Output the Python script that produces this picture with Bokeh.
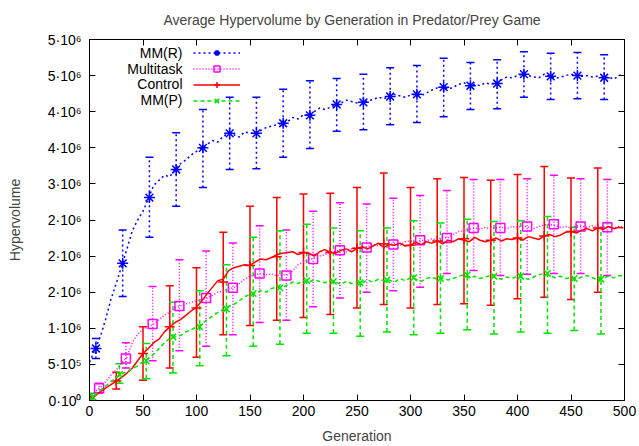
from bokeh.plotting import figure
from bokeh.models import (ColumnDataSource, Whisker, TeeHead, FixedTicker, LinearAxis,
                          Legend, LegendItem, Label)
from bokeh.embed import file_html
from bokeh.resources import INLINE

SCALE = 1e6  # values below are in units of 10^6

# ---- per-generation curves (read every 5 generations, plus the last one) ----
line_gens = list(range(0, 500, 5)) + [499]

mmr_line = [0.53, 0.70, 0.88, 1.12, 1.40, 1.62, 1.86, 2.10, 2.35, 2.50,
            2.62, 2.80, 2.98, 3.05, 3.12, 3.10, 3.20, 3.28, 3.33, 3.40,
            3.45, 3.50, 3.55, 3.60, 3.58, 3.66, 3.70, 3.68, 3.65, 3.72,
            3.70, 3.70, 3.74, 3.78, 3.80, 3.82, 3.84, 3.86, 3.92, 3.90,
            3.96, 3.95, 4.00, 4.05, 4.03, 4.06, 4.10, 4.12, 4.16, 4.14,
            4.12, 4.13, 4.15, 4.17, 4.20, 4.18, 4.21, 4.24, 4.22, 4.20,
            4.23, 4.24, 4.22, 4.26, 4.30, 4.33, 4.34, 4.31, 4.34, 4.38,
            4.40, 4.36, 4.38, 4.36, 4.40, 4.38, 4.39, 4.44, 4.48, 4.47,
            4.50, 4.52, 4.50, 4.48, 4.47, 4.52, 4.49, 4.46, 4.48, 4.50,
            4.52, 4.50, 4.49, 4.50, 4.48, 4.49, 4.47, 4.48, 4.45, 4.50,
            4.52]

multitask_line = [0.05, 0.12, 0.18, 0.26, 0.35, 0.42, 0.52, 0.60, 0.80, 0.92,
                  0.98, 1.02, 1.06, 1.12, 1.18, 1.22, 1.28, 1.31, 1.34, 1.36,
                  1.38, 1.40, 1.42, 1.46, 1.50, 1.52, 1.55, 1.56, 1.62, 1.68,
                  1.72, 1.74, 1.76, 1.74, 1.75, 1.73, 1.74, 1.74, 1.80, 1.88,
                  1.92, 1.95, 1.97, 2.00, 2.02, 2.05, 2.07, 2.08, 2.06, 2.10,
                  2.12, 2.11, 2.13, 2.16, 2.14, 2.17, 2.16, 2.18, 2.15, 2.20,
                  2.21, 2.19, 2.22, 2.21, 2.24, 2.23, 2.26, 2.25, 2.30, 2.34,
                  2.35, 2.37, 2.39, 2.37, 2.40, 2.38, 2.39, 2.40, 2.38, 2.41,
                  2.40, 2.42, 2.40, 2.38, 2.41, 2.43, 2.44, 2.42, 2.40, 2.41,
                  2.39, 2.42, 2.41, 2.40, 2.42, 2.40, 2.41, 2.40, 2.39, 2.41,
                  2.40]

control_line = [0.02, 0.06, 0.12, 0.17, 0.22, 0.27, 0.32, 0.38, 0.45, 0.55,
                0.65, 0.72, 0.80, 0.85, 0.95, 1.02, 1.08, 1.12, 1.18, 1.24,
                1.29, 1.38, 1.48, 1.57, 1.66, 1.68, 1.80, 1.84, 1.86, 1.88,
                1.87, 1.92, 1.96, 1.95, 1.98, 2.02, 2.04, 2.05, 2.06, 2.02,
                2.05, 2.04, 2.00, 2.06, 2.09, 2.05, 2.04, 2.08, 2.10, 2.06,
                2.11, 2.13, 2.10, 2.14, 2.18, 2.12, 2.16, 2.15, 2.18, 2.14,
                2.15, 2.19, 2.16, 2.20, 2.18, 2.21, 2.17, 2.22, 2.20, 2.24,
                2.22, 2.20, 2.26, 2.22, 2.20, 2.22, 2.25, 2.21, 2.24, 2.23,
                2.25, 2.22, 2.27, 2.25, 2.23, 2.28, 2.30, 2.27, 2.29, 2.33,
                2.34, 2.32, 2.36, 2.38, 2.35, 2.39, 2.37, 2.41, 2.38, 2.40,
                2.39]

mmp_line = [0.00, 0.07, 0.14, 0.20, 0.26, 0.32, 0.37, 0.40, 0.44, 0.48,
            0.54, 0.58, 0.64, 0.72, 0.80, 0.86, 0.88, 0.90, 0.95, 0.98,
            1.02, 1.06, 1.12, 1.17, 1.22, 1.26, 1.30, 1.33, 1.38, 1.44,
            1.47, 1.49, 1.52, 1.50, 1.55, 1.57, 1.56, 1.60, 1.64, 1.62,
            1.66, 1.64, 1.67, 1.65, 1.63, 1.66, 1.64, 1.61, 1.65, 1.62,
            1.64, 1.63, 1.67, 1.64, 1.68, 1.66, 1.67, 1.64, 1.69, 1.66,
            1.70, 1.68, 1.65, 1.69, 1.71, 1.68, 1.70, 1.67, 1.69, 1.72,
            1.74, 1.70, 1.72, 1.69, 1.71, 1.73, 1.70, 1.68, 1.71, 1.69,
            1.72, 1.70, 1.68, 1.71, 1.74, 1.76, 1.73, 1.70, 1.72, 1.69,
            1.70, 1.68, 1.71, 1.73, 1.70, 1.67, 1.70, 1.72, 1.70, 1.73,
            1.72]

# ---- error bar samples (every 25 generations, each series offset) ----
mmr_gens = [6, 31, 56, 81, 106, 131, 156, 181, 206, 231, 256, 281, 306, 331, 356, 381, 406, 431, 456, 481]
mmr_mean = [0.72, 1.90, 2.81, 3.20, 3.50, 3.70, 3.70, 3.84, 3.95, 4.10, 4.13, 4.21, 4.24, 4.34, 4.36, 4.39, 4.52, 4.49, 4.50, 4.47]
mmr_upper = [0.86, 2.36, 3.37, 3.71, 4.03, 4.20, 4.20, 4.31, 4.43, 4.46, 4.52, 4.61, 4.64, 4.74, 4.68, 4.72, 4.83, 4.81, 4.82, 4.79]
mmr_lower = [0.58, 1.44, 2.26, 2.69, 2.95, 3.20, 3.21, 3.37, 3.49, 3.73, 3.75, 3.82, 3.85, 3.93, 4.03, 4.04, 4.20, 4.17, 4.18, 4.17]

multitask_gens = [9, 34, 59, 84, 109, 134, 159, 184, 209, 234, 259, 284, 309, 334, 359, 384, 409, 434, 459, 484]
multitask_mean = [0.17, 0.58, 1.06, 1.31, 1.42, 1.56, 1.76, 1.73, 1.96, 2.08, 2.12, 2.16, 2.22, 2.25, 2.39, 2.39, 2.41, 2.44, 2.41, 2.40]
multitask_upper = [0.24, 0.80, 1.58, 1.95, 2.07, 2.18, 2.42, 2.36, 2.62, 2.74, 2.72, 2.80, 2.84, 2.91, 3.06, 3.06, 3.07, 3.12, 3.07, 3.06]
multitask_lower = [0.10, 0.45, 0.55, 0.69, 0.75, 0.91, 1.08, 1.11, 1.30, 1.42, 1.50, 1.52, 1.57, 1.76, 1.80, 1.73, 1.75, 1.76, 1.76, 1.73]

control_gens = [0, 25, 50, 75, 100, 125, 150, 175, 200, 225, 250, 275, 300, 325, 350, 375, 400, 425, 450, 475]
control_mean = [0.03, 0.27, 0.65, 1.02, 1.28, 1.64, 1.87, 1.99, 2.05, 2.05, 2.11, 2.17, 2.15, 2.21, 2.24, 2.22, 2.25, 2.28, 2.34, 2.39]
control_upper = [0.06, 0.39, 1.02, 1.59, 1.84, 2.33, 2.69, 2.81, 2.86, 2.87, 2.95, 3.15, 2.95, 3.07, 3.09, 3.05, 3.13, 3.24, 3.08, 3.22]
control_lower = [0.00, 0.16, 0.28, 0.45, 0.60, 0.91, 1.04, 1.11, 1.15, 1.19, 1.28, 1.33, 1.28, 1.33, 1.34, 1.32, 1.41, 1.43, 1.40, 1.50]

mmp_gens = [3, 28, 53, 78, 103, 128, 153, 178, 203, 228, 253, 278, 303, 328, 353, 378, 403, 428, 453, 478]
mmp_mean = [0.05, 0.36, 0.55, 0.88, 1.02, 1.27, 1.48, 1.56, 1.66, 1.65, 1.63, 1.67, 1.70, 1.69, 1.74, 1.72, 1.72, 1.76, 1.69, 1.68]
mmp_upper = [0.10, 0.51, 0.79, 1.36, 1.52, 1.88, 2.26, 2.35, 2.44, 2.39, 2.35, 2.39, 2.49, 2.46, 2.51, 2.48, 2.49, 2.55, 2.40, 2.39]
mmp_lower = [0.00, 0.24, 0.30, 0.38, 0.48, 0.62, 0.75, 0.78, 0.93, 0.93, 0.89, 0.95, 0.91, 0.93, 0.98, 0.92, 0.95, 0.93, 0.97, 0.92]

x_ticks = [0, 50, 100, 150, 200, 250, 300, 350, 400, 450, 500]
y_ticks = [0, 500000, 1000000, 1500000, 2000000, 2500000, 3000000, 3500000, 4000000, 4500000, 5000000]
y_tick_labels = ["0·10⁰", "5·10⁵", "1·10⁶", "2·10⁶", "2·10⁶", "2·10⁶",
                 "3·10⁶", "4·10⁶", "4·10⁶", "5·10⁶", "5·10⁶"]

series_names = ["MM(R)", "Multitask", "Control", "MM(P)"]
title_text = "Average Hypervolume by Generation in Predator/Prey Game"

FONT = "Liberation Sans"
FS = "14px"

p = figure(width=639, height=446, output_backend="svg", toolbar_location=None,
           x_range=(0, 500), y_range=(0, 5000000),
           min_border_left=89, min_border_right=15, min_border_top=39, min_border_bottom=46,
           title=title_text)
p.title.align = "left"
p.title.offset = 74
p.title.text_font = FONT
p.title.text_font_size = FS
p.title.text_font_style = "normal"
p.title.standoff = 19
p.title.vertical_align = "top"
p.grid.visible = False
p.outline_line_color = "black"
p.outline_line_width = 1
p.background_fill_color = "white"
p.border_fill_color = "white"

for ax in p.xaxis:
    ax.ticker = FixedTicker(ticks=x_ticks)
    ax.axis_label = "Generation"
    ax.major_label_standoff = 5
    ax.axis_label_standoff = 9
for ax in p.yaxis:
    ax.ticker = FixedTicker(ticks=y_ticks)
    ax.major_label_overrides = {t: l for t, l in zip(y_ticks, y_tick_labels)}
    ax.axis_label = "Hypervolume"
    ax.major_label_standoff = 8
    ax.axis_label_standoff = 22

# mirrored tick marks on the top and right borders (no labels)
top_ax = LinearAxis(ticker=FixedTicker(ticks=x_ticks),
                    major_label_overrides={t: "" for t in x_ticks},
                    major_label_standoff=0, major_label_text_alpha=0)
right_ax = LinearAxis(ticker=FixedTicker(ticks=y_ticks),
                      major_label_overrides={t: "" for t in y_ticks},
                      major_label_standoff=0, major_label_text_alpha=0)
p.add_layout(top_ax, "above")
p.add_layout(right_ax, "right")

for ax in p.axis:
    ax.major_tick_in = 6
    ax.major_tick_out = 0
    ax.minor_tick_line_color = None
    ax.axis_line_color = "black"
    ax.major_tick_line_color = "black"
    ax.major_label_text_font = FONT
    ax.major_label_text_font_size = FS
    ax.axis_label_text_font = FONT
    ax.axis_label_text_font_style = "normal"
    ax.axis_label_text_font_size = FS
    ax.major_label_text_color = "black"

styles = [
    dict(color="#0000ff", dash="2 3", marker="asterisk", msize=11,
         lg=line_gens, lv=mmr_line, eg=mmr_gens, em=mmr_mean, eu=mmr_upper, el=mmr_lower),
    dict(color="#ff00ff", dash="1 2", marker="square", msize=9,
         lg=line_gens, lv=multitask_line, eg=multitask_gens, em=multitask_mean, eu=multitask_upper, el=multitask_lower),
    dict(color="#ff0000", dash="solid", marker="cross", msize=10,
         lg=line_gens, lv=control_line, eg=control_gens, em=control_mean, eu=control_upper, el=control_lower),
    dict(color="#00e400", dash="4 3", marker="x", msize=9,
         lg=line_gens, lv=mmp_line, eg=mmp_gens, em=mmp_mean, eu=mmp_upper, el=mmp_lower),
]

items = []
for name, s in zip(series_names, styles):
    lsrc = ColumnDataSource(dict(x=s["lg"], y=[v * SCALE for v in s["lv"]]))
    esrc = ColumnDataSource(dict(x=s["eg"], y=[v * SCALE for v in s["em"]],
                                 upper=[v * SCALE for v in s["eu"]],
                                 lower=[v * SCALE for v in s["el"]]))
    lr = p.line("x", "y", source=lsrc, line_color=s["color"], line_width=1.5, line_dash=s["dash"])
    wk = Whisker(source=esrc, base="x", upper="upper", lower="lower", dimension="height",
                 line_color=s["color"], line_width=1.5, line_dash=s["dash"],
                 upper_head=TeeHead(size=8, line_color=s["color"], line_width=1.5),
                 lower_head=TeeHead(size=8, line_color=s["color"], line_width=1.5))
    p.add_layout(wk)
    sr = p.scatter("x", "y", source=esrc, marker=s["marker"], size=s["msize"],
                   line_color=s["color"], fill_color=None, line_width=1.5)
    items.append(LegendItem(label=" ", renderers=[lr, sr]))

legend = Legend(items=items, location=(104, 292), padding=0, spacing=1,
                glyph_width=47, glyph_height=15, label_height=15,
                label_text_font_size="10px", label_standoff=0,
                background_fill_alpha=0, border_line_alpha=0)
p.add_layout(legend, "center")

row_y = [348, 332, 317, 301]
for name, yy in zip(series_names, row_y):
    p.add_layout(Label(x=93, y=yy, x_units="screen", y_units="screen", text=name,
                       text_align="right", text_baseline="middle",
                       text_font=FONT, text_font_size=FS, text_color="black"))

open("out.html", "w").write(file_html(p, INLINE))
